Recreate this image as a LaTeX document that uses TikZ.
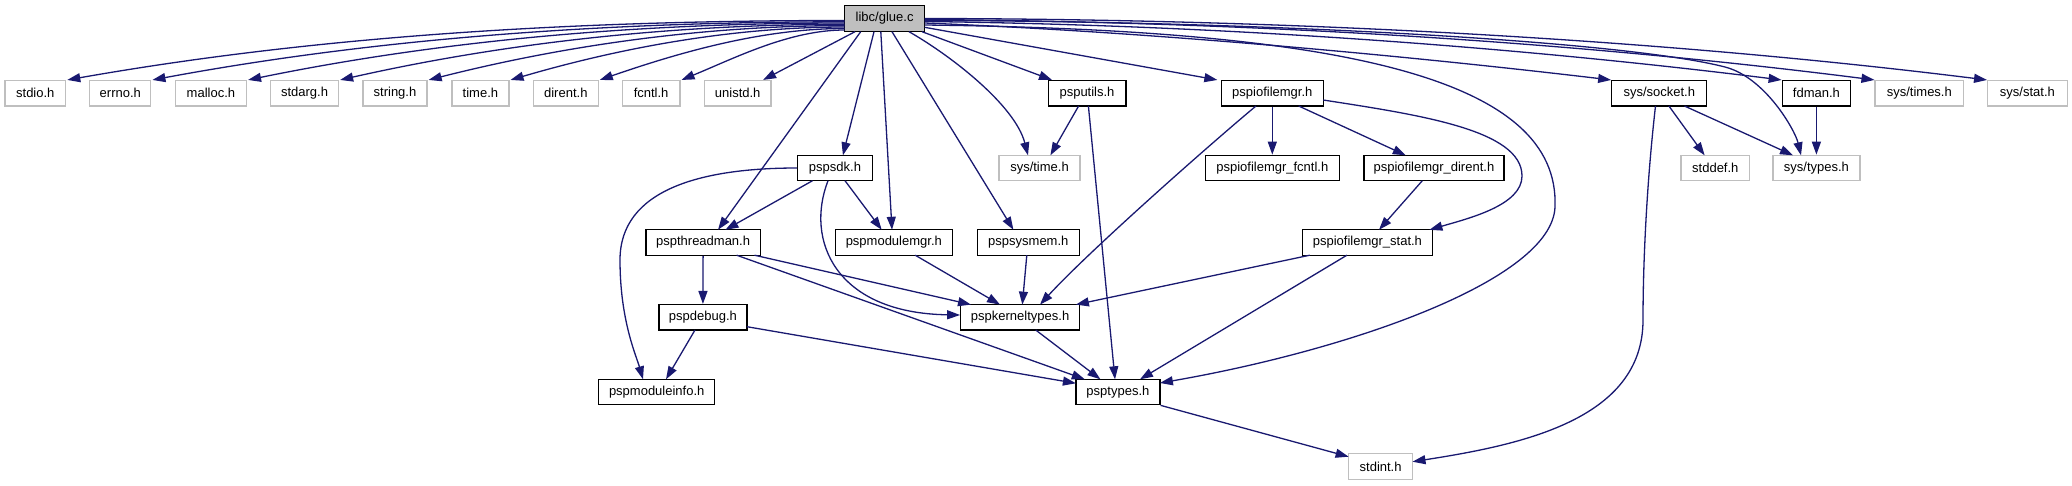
\documentclass[tikz,border=0pt]{standalone}
\usepackage{fontspec}
\setmainfont{Liberation Sans}
\usetikzlibrary{arrows.meta}
\definecolor{edgec}{HTML}{191970}
\definecolor{grayb}{HTML}{BFBFBF}
\begin{document}
\begin{tikzpicture}[x=1pt,y=-1pt,
  box/.style={draw=black, line width=1.3pt, fill=white, minimum height=25.4pt, inner sep=0pt, font=\fontsize{13}{15}\selectfont},
  sysbox/.style={box, draw=grayb},
  root/.style={box, fill=grayb, minimum height=26.4pt},
  e/.style={draw=edgec, line width=1.3pt, -{Triangle[length=13pt,width=9pt]}}
]
\useasboundingbox (0,0) rectangle (2072,485);
% row 0
\node[root, minimum width=80pt] (glue) at (884.6,18.5) {libc/glue.c};
% row 1
\node[sysbox, minimum width=60.7pt] (stdio) at (35.3,93.3) {stdio.h};
\node[sysbox, minimum width=61pt] (errno) at (120.3,93.3) {errno.h};
\node[sysbox, minimum width=71pt] (malloc) at (210.9,93.3) {malloc.h};
\node[sysbox, minimum width=68pt] (stdarg) at (304.5,93.3) {stdarg.h};
\node[sysbox, minimum width=64pt] (string) at (395,93.3) {string.h};
\node[sysbox, minimum width=57pt] (time) at (480.4,93.3) {time.h};
\node[sysbox, minimum width=64.7pt] (dirent) at (565.8,93.3) {dirent.h};
\node[sysbox, minimum width=57.6pt] (fcntl) at (651.1,93.3) {fcntl.h};
\node[sysbox, minimum width=66.5pt] (unistd) at (737.7,93.3) {unistd.h};
\node[box, minimum width=77.7pt] (psputils) at (1087,93.3) {psputils.h};
\node[box, minimum width=101.8pt] (pspiofilemgr) at (1272.3,93.3) {pspiofilemgr.h};
\node[box, minimum width=95pt] (syssocket) at (1659.3,93.3) {sys/socket.h};
\node[box, minimum width=68.3pt] (fdman) at (1816.4,93.3) {fdman.h};
\node[sysbox, minimum width=88.4pt] (systimes) at (1919.3,93.3) {sys/times.h};
\node[sysbox, minimum width=79.5pt] (sysstat) at (2027.4,93.3) {sys/stat.h};
% row 2
\node[box, minimum width=74.5pt] (pspsdk) at (835,168) {pspsdk.h};
\node[sysbox, minimum width=80.8pt] (systime) at (1039.5,168) {sys/time.h};
\node[box, minimum width=134pt] (fcntlmgr) at (1272.3,168) {pspiofilemgr\_fcntl.h};
\node[box, minimum width=140pt] (direntmgr) at (1433.9,168) {pspiofilemgr\_dirent.h};
\node[sysbox, minimum width=68.8pt] (stddef) at (1715.3,168) {stddef.h};
\node[sysbox, minimum width=87pt] (systypes) at (1816.4,168) {sys/types.h};
% row 3
\node[box, minimum width=114.3pt] (pspthreadman) at (703.1,242.5) {pspthreadman.h};
\node[box, minimum width=117pt] (pspmodulemgr) at (893.8,242.5) {pspmodulemgr.h};
\node[box, minimum width=102.2pt] (pspsysmem) at (1028.3,242.5) {pspsysmem.h};
\node[box, minimum width=130.4pt] (statmgr) at (1367.4,242.5) {pspiofilemgr\_stat.h};
% row 4
\node[box, minimum width=88pt] (pspdebug) at (702.9,317.3) {pspdebug.h};
\node[box, minimum width=118.8pt] (pspkerneltypes) at (1020.1,317.3) {pspkerneltypes.h};
% row 5
\node[box, minimum width=116pt] (pspmoduleinfo) at (656.7,392) {pspmoduleinfo.h};
\node[box, minimum width=84pt] (psptypes) at (1117.9,392) {psptypes.h};
% row 6
\node[sysbox, minimum width=63.8pt] (stdint) at (1380.6,466.5) {stdint.h};

% glue -> left row
\draw[e] ([shift={(-40,2)}]glue.center) .. controls (585.4,20.5) and (326.2,34.3) .. ([xshift=1pt]stdio.north east);
\draw[e] ([shift={(-40,3.3)}]glue.center) .. controls (613.7,21.8) and (382.9,37.1) .. ([xshift=1pt]errno.north east);
\draw[e] ([shift={(-40,4.5)}]glue.center) .. controls (645.7,23) and (446.9,39.2) .. ([xshift=1pt]malloc.north east);
\draw[e] ([shift={(-40,5.8)}]glue.center) .. controls (676.1,24.3) and (507.5,42.2) .. ([xshift=1pt]stdarg.north east);
\draw[e] ([shift={(-40,7.1)}]glue.center) .. controls (705.7,25.6) and (566.9,44.9) .. ([xshift=1pt]string.north east);
\draw[e] ([shift={(-40,8.5)}]glue.center) .. controls (733.1,27) and (621.5,47.5) .. ([xshift=1pt]time.north east);
\draw[e] ([shift={(-40,10)}]glue.center) .. controls (762.4,28.5) and (680.2,52.2) .. ([xshift=1pt]dirent.north east);
\draw[e] ([shift={(-40,11.5)}]glue.center) .. controls (789.7,30) and (734.9,58) .. ([xshift=1pt]fcntl.north east);
\draw[e] ([shift={(-29.6,13.2)}]glue.center) -- ([xshift=-8.5pt]unistd.north east);
% glue -> down
\draw[e] ([shift={(-23.9,13.2)}]glue.center) -- ([shift={(14.9,-12.7)}]pspthreadman.center);
\draw[e] ([shift={(-10.6,13.2)}]glue.center) -- ([shift={(7.9,-12.7)}]pspsdk.center);
\draw[e] ([shift={(-3.8,13.2)}]glue.center) -- ([shift={(-1.8,-12.7)}]pspmodulemgr.center);
\draw[e] ([shift={(7.4,13.2)}]glue.center) -- ([shift={(-14.9,-12.7)}]pspsysmem.center);
\draw[e] ([shift={(24.4,13.2)}]glue.center) .. controls (950,55) and (1015,105) .. ([shift={(-11.5,-12.7)}]systime.center);
\draw[e] ([shift={(37.4,13.2)}]glue.center) -- ([xshift=4.5pt]psputils.north west);
% glue -> right
\draw[e] ([shift={(40,8.8)}]glue.center) -- ([xshift=-3.4pt]pspiofilemgr.north west);
\draw[e] ([shift={(40,6.5)}]glue.center) .. controls (1350,30) and (1560,80) .. (1555,207) .. controls (1552,280) and (1350,350) .. ([shift={(42,-9)}]psptypes.center);
\draw[e] ([shift={(40,4.5)}]glue.center) .. controls (1150,32) and (1400,55) .. (syssocket.north west);
\draw[e] ([shift={(40,3)}]glue.center) .. controls (1210,25) and (1500,45) .. (fdman.north west);
\draw[e] ([shift={(40,2)}]glue.center) .. controls (1250,21) and (1620,40) .. (1725,67) .. controls (1765,77.3) and (1795,130) .. ([shift={(-15.4,-12.7)}]systypes.center);
\draw[e] ([shift={(40,1)}]glue.center) .. controls (1240,22) and (1560,40) .. (systimes.north west);
\draw[e] ([shift={(40,0)}]glue.center) .. controls (1280,19) and (1650,38) .. (sysstat.north west);
% psputils
\draw[e] ([shift={(-8.4,12.7)}]psputils.center) -- ([shift={(10.9,-12.7)}]systime.center);
\draw[e] ([shift={(1.4,12.7)}]psputils.center) -- ([shift={(-2.9,-12.7)}]psptypes.center);
% pspiofilemgr
\draw[e] (pspiofilemgr.south) -- (fcntlmgr.north);
\draw[e] ([shift={(26.4,12.7)}]pspiofilemgr.center) -- ([shift={(-28.1,-12.7)}]direntmgr.center);
\draw[e] ([shift={(50.9,6.7)}]pspiofilemgr.center) .. controls (1420,115) and (1522,130) .. (1522,176) .. controls (1522,205) and (1470,218) .. ([shift={(62,-12.7)}]statmgr.center);
\draw[e] ([shift={(-16.3,12.7)}]pspiofilemgr.center) .. controls (1215,140) and (1090,250) .. ([shift={(19.9,-12.7)}]pspkerneltypes.center);
% pspsdk
\draw[e] ([shift={(-22.5,12.7)}]pspsdk.center) -- ([shift={(22.3,-12.7)}]pspthreadman.center);
\draw[e] ([shift={(10,12.7)}]pspsdk.center) -- ([shift={(-12.1,-12.7)}]pspmodulemgr.center);
\draw[e] ([shift={(-7,12.7)}]pspsdk.center) .. controls (805,240) and (835,313) .. ([shift={(-60,-2.3)}]pspkerneltypes.center);
\draw[e] (pspsdk.west) .. controls (700,168) and (620,190) .. (620,260) .. controls (620,320) and (636,355) .. ([shift={(-13.7,-12.7)}]pspmoduleinfo.center);
% pspthreadman
\draw[e] (pspthreadman.south) -- (pspdebug.north);
\draw[e] ([shift={(51.4,12.7)}]pspthreadman.center) -- ([shift={(-49.1,-12.7)}]pspkerneltypes.center);
\draw[e] ([shift={(33.5,12.7)}]pspthreadman.center) -- ([shift={(-33.1,-12.7)}]psptypes.center);
% others
\draw[e] ([shift={(21.4,12.7)}]pspmodulemgr.center) -- ([shift={(-20.1,-12.7)}]pspkerneltypes.center);
\draw[e] ([shift={(-1.5,12.7)}]pspsysmem.center) -- ([shift={(2.2,-12.7)}]pspkerneltypes.center);
\draw[e] ([shift={(-7.9,12.7)}]pspdebug.center) -- ([shift={(9.3,-12.7)}]pspmoduleinfo.center);
\draw[e] ([shift={(44,9.4)}]pspdebug.center) -- ([shift={(-42,-8.7)}]psptypes.center);
\draw[e] ([shift={(15.6,12.7)}]pspkerneltypes.center) -- ([shift={(-17.5,-12.7)}]psptypes.center);
\draw[e] ([shift={(-57.6,12.7)}]statmgr.center) -- ([shift={(55.8,-12.7)}]pspkerneltypes.center);
\draw[e] ([shift={(-20.5,12.7)}]statmgr.center) -- ([shift={(22.1,-12.7)}]psptypes.center);
\draw[e] ([shift={(-11.6,12.7)}]direntmgr.center) -- ([shift={(11.6,-12.7)}]statmgr.center);
\draw[e] (psptypes.south east) -- ([shift={(-32,-9.8)}]stdint.center);
% sys/socket
\draw[e] ([shift={(9.6,12.7)}]syssocket.center) -- ([shift={(-10.7,-12.7)}]stddef.center);
\draw[e] ([shift={(25.2,12.7)}]syssocket.center) -- ([shift={(-23.4,-12.7)}]systypes.center);
\draw[e] ([shift={(-3.8,12.7)}]syssocket.center) .. controls (1647,180) and (1643,260) .. (1643,320) .. controls (1643,420) and (1520,445) .. ([shift={(31.9,-4.8)}]stdint.center);
\draw[e] (fdman.south) -- (systypes.north);
\end{tikzpicture}
\end{document}
